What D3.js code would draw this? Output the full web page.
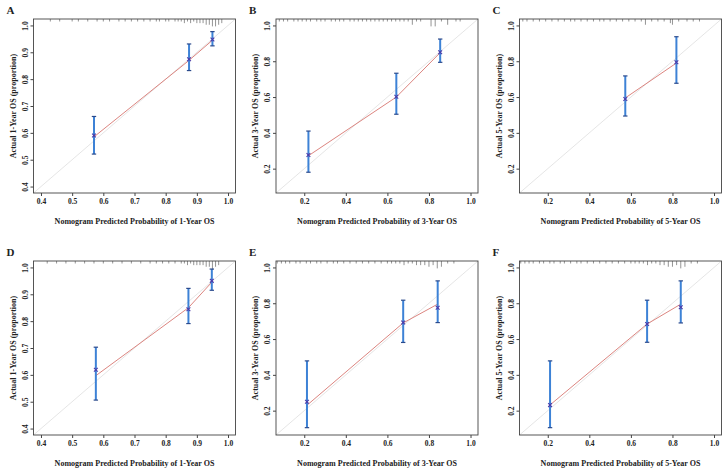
<!DOCTYPE html>
<html>
<head>
<meta charset="utf-8">
<script src="https://cdn.jsdelivr.net/npm/d3@7"></script>
<style>
  body { margin: 0; background: #fff; }
  svg text { font-family: "Liberation Serif", "DejaVu Serif", serif; font-weight: bold; fill: #222; }
</style>
</head>
<body>
<div id="chart"></div>
<script>
// panel letters and axis titles
const letters = ["A", "B", "C", "D", "E", "F"];
const horizons = ["1", "3", "5", "1", "3", "5"];

// tick labels per panel
const ticks1yr = [0.4, 0.5, 0.6, 0.7, 0.8, 0.9, 1.0];
const ticks35yr = [0.2, 0.4, 0.6, 0.8, 1.0];

// axis limits (before R's 4% extension)
const lims1yr = [0.4, 1.0];
const lims35yr = [0.1, 1.0];

// calibration points: predicted, line value, observed marker, CI low, CI high
const predA = [0.570, 0.875, 0.950];
const lineA = [0.585, 0.870, 0.945];
const obsA = [0.590, 0.874, 0.948];
const loA = [0.521, 0.832, 0.924];
const hiA = [0.661, 0.931, 0.977];

const predB = [0.220, 0.643, 0.854];
const lineB = [0.272, 0.600, 0.848];
const obsB = [0.276, 0.602, 0.850];
const loB = [0.180, 0.504, 0.794];
const hiB = [0.410, 0.733, 0.924];

const predC = [0.573, 0.819];
const lineC = [0.595, 0.790];
const obsC = [0.589, 0.794];
const loC = [0.494, 0.677];
const hiC = [0.718, 0.937];

const predD = [0.576, 0.873, 0.948];
const lineD = [0.597, 0.850, 0.945];
const obsD = [0.619, 0.844, 0.950];
const loD = [0.506, 0.791, 0.915];
const hiD = [0.703, 0.922, 0.994];

const predE = [0.213, 0.676, 0.842];
const lineE = [0.230, 0.690, 0.795];
const obsE = [0.250, 0.692, 0.775];
const loE = [0.105, 0.581, 0.692];
const hiE = [0.478, 0.817, 0.925];

const predF = [0.211, 0.678, 0.840];
const lineF = [0.232, 0.684, 0.795];
const obsF = [0.231, 0.684, 0.778];
const loF = [0.105, 0.582, 0.690];
const hiF = [0.478, 0.817, 0.925];

// rug of predicted probabilities along the top (value, relative count)
const rugAx = [0.43,0.46,0.50,0.52,0.55,0.58,0.60,0.62,0.65,0.67,0.69,0.71,0.73,0.75,0.77,0.78,0.80,0.81,0.83,0.84,0.85,0.86,0.87,0.88,0.89,0.90,0.91,0.92,0.93,0.94,0.95,0.96,0.97,0.98];
const rugAn = [1,1,1,1,1,1,1,1,1,1,1,1,1,1,1,1,1,1,1,1,1,2,1,2,1,2,2,2,3,3,4,4,3,2];
const rugBx = [0.08,0.10,0.12,0.15,0.17,0.19,0.21,0.23,0.26,0.28,0.30,0.33,0.35,0.37,0.39,0.42,0.44,0.46,0.48,0.50,0.52,0.54,0.56,0.58,0.60,0.62,0.64,0.66,0.68,0.70,0.72,0.74,0.76,0.81,0.83,0.86,0.89,0.93,0.95];
const rugBn = [1,1,1,1,1,1,1,1,1,1,1,1,1,1,1,1,1,1,1,1,1,1,1,1,1,1,1,1,1,1,3,1,1,4,4,1,3,1,1];
const rugCx = [0.08,0.10,0.13,0.16,0.19,0.22,0.25,0.28,0.31,0.33,0.36,0.39,0.42,0.45,0.47,0.50,0.53,0.56,0.59,0.62,0.65,0.67,0.70,0.73,0.76,0.79,0.80,0.83,0.87,0.90,0.93];
const rugCn = [1,1,1,1,1,1,1,1,1,1,1,1,1,1,1,1,1,1,1,1,1,3,1,1,1,2,3,1,1,1,1];
const rugDx = [0.42,0.45,0.48,0.51,0.54,0.57,0.60,0.63,0.66,0.69,0.72,0.75,0.77,0.79,0.81,0.83,0.85,0.86,0.87,0.88,0.89,0.90,0.91,0.92,0.93,0.94,0.95,0.96,0.97];
const rugDn = [1,1,1,1,1,1,1,1,1,1,1,1,1,1,1,1,1,1,2,1,2,2,2,2,3,3,5,3,2];
const rugEx = [0.07,0.09,0.11,0.13,0.16,0.18,0.21,0.23,0.26,0.28,0.31,0.34,0.36,0.39,0.42,0.45,0.48,0.51,0.54,0.57,0.60,0.62,0.64,0.66,0.68,0.70,0.72,0.74,0.76,0.78,0.80,0.82,0.84,0.86,0.89,0.92];
const rugEn = [1,1,1,1,1,1,1,1,1,1,1,1,1,1,1,1,1,1,1,1,1,1,1,1,2,1,1,2,2,2,3,2,4,3,1,1];
const rugFx = [0.07,0.09,0.11,0.13,0.16,0.18,0.21,0.23,0.26,0.28,0.31,0.34,0.36,0.39,0.42,0.45,0.48,0.51,0.54,0.57,0.60,0.62,0.64,0.66,0.68,0.70,0.72,0.74,0.76,0.78,0.80,0.82,0.84,0.86,0.89,0.92];
const rugFn = [1,1,1,1,1,1,1,1,1,1,1,1,1,1,1,1,1,1,1,1,1,1,1,1,2,1,1,2,2,3,3,2,4,3,1,1];

function zipPoints(pred, line, obs, lo, hi) {
  return pred.map((p, i) => ({ pred: p, line: line[i], obs: obs[i], lo: lo[i], hi: hi[i] }));
}

const panels = [
  { points: zipPoints(predA, lineA, obsA, loA, hiA), rug: [rugAx, rugAn], ticks: ticks1yr, lims: lims1yr },
  { points: zipPoints(predB, lineB, obsB, loB, hiB), rug: [rugBx, rugBn], ticks: ticks35yr, lims: lims35yr },
  { points: zipPoints(predC, lineC, obsC, loC, hiC), rug: [rugCx, rugCn], ticks: ticks35yr, lims: lims35yr },
  { points: zipPoints(predD, lineD, obsD, loD, hiD), rug: [rugDx, rugDn], ticks: ticks1yr, lims: lims1yr },
  { points: zipPoints(predE, lineE, obsE, loE, hiE), rug: [rugEx, rugEn], ticks: ticks35yr, lims: lims35yr },
  { points: zipPoints(predF, lineF, obsF, loF, hiF), rug: [rugFx, rugFn], ticks: ticks35yr, lims: lims35yr },
];

// plot-region layout (frame boxes)
const colLeft = [33.5, 276, 519.5];
const rowTop = [19, 261];
const plotW = 202,
  plotH = 174;

const svg = d3
  .select("#chart")
  .append("svg")
  .attr("width", 726)
  .attr("height", 471);

const rugH = d3.scaleLinear().domain([1, 5]).range([2.5, 9]);
const fmt = d3.format(".1f");

panels.forEach(function (p, i) {
  const left = colLeft[i % 3],
    top = rowTop[Math.floor(i / 3)];
  const g = svg.append("g").attr("transform", `translate(${left}, ${top})`);

  // R extends the limits by 4% on each side
  const pad = (p.lims[1] - p.lims[0]) * 0.04;
  const dom = [p.lims[0] - pad, p.lims[1] + pad];
  const x = d3.scaleLinear().domain(dom).range([0, plotW]);
  const y = d3.scaleLinear().domain(dom).range([plotH, 0]);

  // clip for the diagonal
  g.append("clipPath")
    .attr("id", "clip" + i)
    .append("rect")
    .attr("width", plotW)
    .attr("height", plotH);

  // ideal line
  g.append("line")
    .attr("clip-path", `url(#clip${i})`)
    .attr("x1", x(dom[0]))
    .attr("y1", y(dom[0]))
    .attr("x2", x(dom[1]))
    .attr("y2", y(dom[1]))
    .attr("stroke", "#e2e2e2")
    .attr("stroke-width", 0.9);

  // rug along top
  g.selectAll(".rug")
    .data(p.rug[0].map((v, k) => ({ v: v, n: p.rug[1][k] })))
    .join("line")
    .attr("x1", (d) => x(d.v))
    .attr("x2", (d) => x(d.v))
    .attr("y1", 0)
    .attr("y2", (d) => rugH(d.n))
    .attr("stroke", "#666")
    .attr("stroke-width", 0.7);

  // calibration line
  g.append("path")
    .datum(p.points)
    .attr("fill", "none")
    .attr("stroke", "#dc8580")
    .attr("stroke-width", 1)
    .attr(
      "d",
      d3
        .line()
        .x((d) => x(d.pred))
        .y((d) => y(d.line))
    );

  // error bars
  const bars = g.selectAll(".bar").data(p.points).join("g");
  bars
    .append("line")
    .attr("x1", (d) => x(d.pred))
    .attr("x2", (d) => x(d.pred))
    .attr("y1", (d) => y(d.lo))
    .attr("y2", (d) => y(d.hi))
    .attr("stroke", "#3d82d6")
    .attr("stroke-width", 2);
  ["lo", "hi"].forEach(function (k) {
    bars
      .append("line")
      .attr("x1", (d) => x(d.pred) - 2.2)
      .attr("x2", (d) => x(d.pred) + 2.2)
      .attr("y1", (d) => y(d[k]))
      .attr("y2", (d) => y(d[k]))
      .attr("stroke", "#2b4a8c")
      .attr("stroke-width", 1.2);
  });
  bars
    .append("path")
    .attr("transform", (d) => `translate(${x(d.pred)}, ${y(d.obs)})`)
    .attr("d", d3.symbol(d3.symbolX, 11)())
    .attr("fill", "none")
    .attr("stroke", "#4a3aa8")
    .attr("stroke-width", 1.1);

  // frame
  g.append("rect")
    .attr("width", plotW)
    .attr("height", plotH)
    .attr("fill", "none")
    .attr("stroke", "#444")
    .attr("stroke-width", 0.9);

  // x axis
  const xa = g
    .append("g")
    .attr("transform", `translate(0, ${plotH})`)
    .call(d3.axisBottom(x).tickValues(p.ticks).tickFormat(fmt).tickSize(3).tickPadding(3));
  xa.select(".domain").remove();
  xa.selectAll("line").attr("stroke", "#444");
  xa.selectAll("text").style("font-size", "7.5px").style("font-family", null);

  // y axis with vertical labels
  const ya = g.append("g").call(d3.axisLeft(y).tickValues(p.ticks).tickFormat(fmt).tickSize(3));
  ya.select(".domain").remove();
  ya.selectAll("line").attr("stroke", "#444");
  ya.selectAll("text")
    .style("font-size", "7.5px")
    .style("font-family", null)
    .attr("x", 0)
    .attr("y", -6)
    .attr("dy", 0)
    .attr("text-anchor", "middle")
    .attr("transform", "rotate(-90)");

  // axis titles
  g.append("text")
    .attr("x", plotW / 2)
    .attr("y", plotH + 31)
    .attr("text-anchor", "middle")
    .style("font-size", "8px")
    .text(`Nomogram Predicted Probability of ${horizons[i]}-Year OS`);
  g.append("text")
    .attr("transform", `translate(-18, ${plotH / 2}) rotate(-90)`)
    .attr("text-anchor", "middle")
    .style("font-size", "8px")
    .text(`Actual ${horizons[i]}-Year OS (proportion)`);

  // panel letter
  g.append("text")
    .attr("x", -27)
    .attr("y", -5)
    .style("font-size", "11px")
    .text(letters[i]);
});
</script>
</body>
</html>
